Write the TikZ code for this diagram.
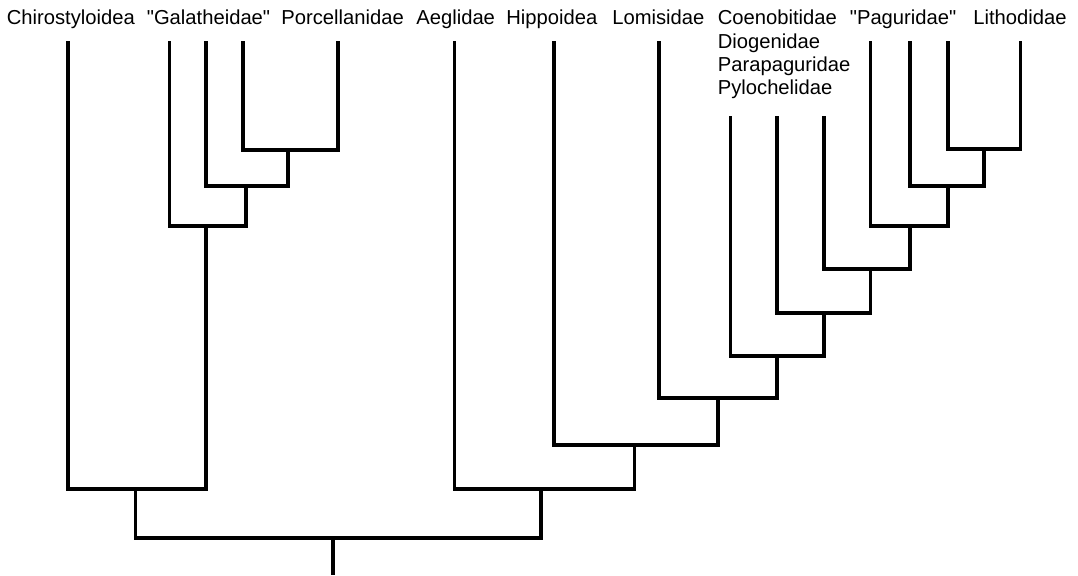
\documentclass[tikz,border=0pt]{standalone}
\usepackage{fontspec}
\setmainfont{Liberation Sans}
\begin{document}
\begin{tikzpicture}[x=0.02cm,y=-0.02cm]
\tikzset{taxon/.style={anchor=base west,inner sep=0pt,align=left,font=\fontsize{11.5}{13.2}\selectfont},
  branch/.style={line width=1.9pt}}
\useasboundingbox (0,0) rectangle (1078,575);
\node[taxon] (tchi) at (6.5,24.7) {Chirostyloidea};
\node[taxon] (tgal) at (146.5,24.7) {\textquotedbl Galatheidae\textquotedbl};
\node[taxon] (tpor) at (281,24.7) {Porcellanidae};
\node[taxon] (taeg) at (416,24.7) {Aeglidae};
\node[taxon] (thip) at (506,24.7) {Hippoidea};
\node[taxon] (tlom) at (612,24.7) {Lomisidae};
\node[taxon] (tcoe) at (717.5,94.4) {Coenobitidae\\Diogenidae\\Parapaguridae\\Pylochelidae};
\node[taxon] (tpag) at (849.5,24.7) {\textquotedbl Paguridae\textquotedbl};
\node[taxon] (tlit) at (973,24.7) {Lithodidae};
\coordinate (chi) at (68,41);
\coordinate (g1) at (169.5,41);
\coordinate (g2) at (206,41);
\coordinate (g3) at (243,41);
\coordinate (por) at (338,41);
\coordinate (aeg) at (454.5,41);
\coordinate (hip) at (554,41);
\coordinate (lom) at (659,41);
\coordinate (c1) at (730.5,116);
\coordinate (c2) at (777,116);
\coordinate (c3) at (824,116);
\coordinate (p1) at (870.5,41);
\coordinate (p2) at (910,41);
\coordinate (p3) at (948,41);
\coordinate (lit) at (1020.5,41);
\coordinate (n1) at (288,150);
\coordinate (n2) at (246,186);
\coordinate (n3) at (206,226);
\coordinate (n4) at (135.5,489);
\coordinate (m1) at (984,149);
\coordinate (m2) at (948,186);
\coordinate (m3) at (910,226);
\coordinate (m4) at (870.5,269);
\coordinate (m5) at (824,313);
\coordinate (m6) at (777,356);
\coordinate (m7) at (718,398);
\coordinate (m8) at (634.5,445);
\coordinate (m9) at (541,489);
\coordinate (root) at (333,538);
\coordinate (base) at (333,575);
\draw[branch] (g3) |- (n1) -| (por);
\draw[branch] (g2) |- (n2) -| (n1);
\draw[branch] (g1) |- (n3) -| (n2);
\draw[branch] (chi) |- (n4) -| (n3);
\draw[branch] (p3) |- (m1) -| (lit);
\draw[branch] (p2) |- (m2) -| (m1);
\draw[branch] (p1) |- (m3) -| (m2);
\draw[branch] (c3) |- (m4) -| (m3);
\draw[branch] (c2) |- (m5) -| (m4);
\draw[branch] (c1) |- (m6) -| (m5);
\draw[branch] (lom) |- (m7) -| (m6);
\draw[branch] (hip) |- (m8) -| (m7);
\draw[branch] (aeg) |- (m9) -| (m8);
\draw[branch] (n4) |- (root) -| (m9);
\draw[branch] (root) -- (base);
\end{tikzpicture}
\end{document}
